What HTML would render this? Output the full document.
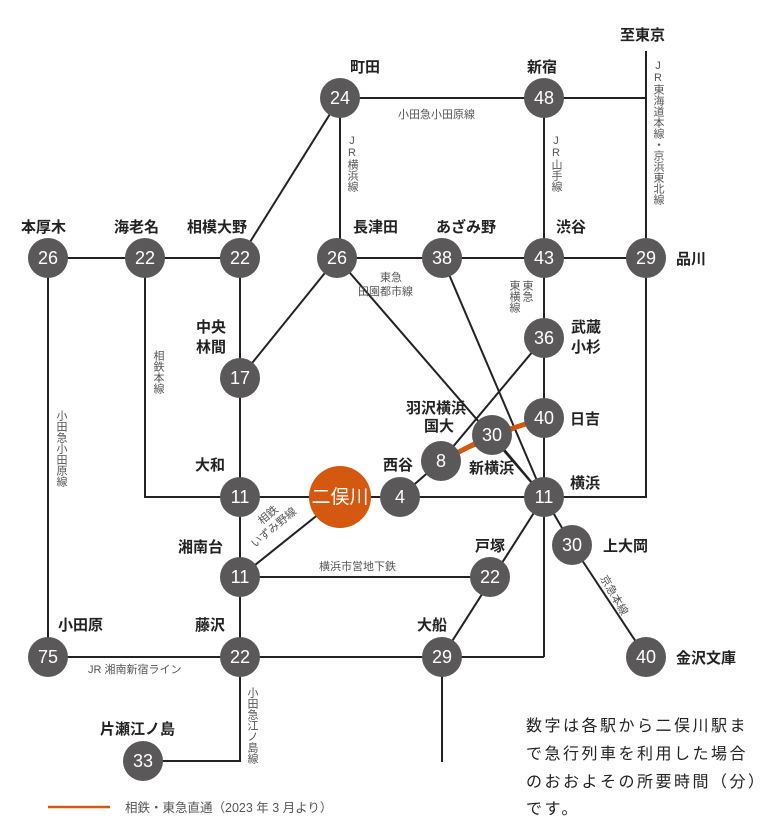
<!DOCTYPE html>
<html><head><meta charset="utf-8"><style>
body{margin:0;width:768px;height:824px;background:#fff;position:relative;overflow:hidden;font-family:"Liberation Sans","Noto Sans CJK JP",sans-serif}
svg{position:absolute;left:0;top:0}
.v{position:absolute;writing-mode:vertical-rl;text-orientation:upright;font-size:11px;color:#555;line-height:12px;letter-spacing:0px}
.s{font-size:15px;font-weight:bold;fill:#222}
.n{font-size:18px;fill:#fff;text-anchor:middle}
.l{font-size:11px;fill:#555}
</style></head><body>
<svg width="768" height="824" viewBox="0 0 768 824">
<g stroke="#222" stroke-width="2" fill="none">
<polyline points="340,98 646,98"/>
<polyline points="646,51 646,497 544,497"/>
<line x1="340" y1="98" x2="240" y2="258"/>
<line x1="340" y1="98" x2="340" y2="258"/>
<line x1="544" y1="98" x2="544" y2="657"/>
<line x1="48" y1="258" x2="240" y2="258"/>
<line x1="337" y1="258" x2="646" y2="258"/>
<line x1="240" y1="258" x2="240" y2="761"/>
<polyline points="145,258 145,497 544,497"/>
<line x1="48" y1="258" x2="48" y2="657"/>
<line x1="337" y1="258" x2="240" y2="378"/>
<line x1="337" y1="258" x2="544" y2="497"/>
<line x1="442" y1="258" x2="544" y2="497"/>
<polyline points="544,338 441,461 400,497"/>
<line x1="492" y1="435" x2="544" y2="497"/>
<line x1="240" y1="577" x2="340" y2="497"/>
<line x1="240" y1="577" x2="490" y2="577"/>
<line x1="544" y1="497" x2="442" y2="657"/>
<line x1="442" y1="657" x2="442" y2="762"/>
<polyline points="544,497 572,545 646,657"/>
<line x1="48" y1="657" x2="544" y2="657"/>
<polyline points="240,657 240,761 143,761"/>
</g>
<g stroke="#d4580f" stroke-width="5"><polyline points="441,461 492,435 544,418"/></g>
<line x1="48" y1="807" x2="110" y2="807" stroke="#d4580f" stroke-width="2.5"/>
<g fill="#5a5858">
<circle cx="340" cy="98" r="20"/><circle cx="544" cy="98" r="20"/>
<circle cx="48" cy="258" r="20"/><circle cx="145" cy="258" r="20"/><circle cx="240" cy="258" r="20"/><circle cx="337" cy="258" r="20"/><circle cx="442" cy="258" r="20"/><circle cx="544" cy="258" r="20"/><circle cx="646" cy="258" r="20"/>
<circle cx="544" cy="338" r="20"/><circle cx="240" cy="378" r="20"/><circle cx="544" cy="418" r="20"/><circle cx="492" cy="435" r="20"/><circle cx="441" cy="461" r="20"/>
<circle cx="400" cy="497" r="20"/><circle cx="240" cy="497" r="20"/><circle cx="544" cy="497" r="20"/>
<circle cx="572" cy="545" r="20"/><circle cx="240" cy="577" r="20"/><circle cx="490" cy="577" r="20"/>
<circle cx="48" cy="657" r="20"/><circle cx="240" cy="657" r="20"/><circle cx="442" cy="657" r="20"/><circle cx="646" cy="657" r="20"/><circle cx="143" cy="761" r="20"/>
</g>
<circle cx="340" cy="497" r="31" fill="#d4580f"/>
<g class="n">
<text x="340" y="104">24</text><text x="544" y="104">48</text>
<text x="48" y="264">26</text><text x="145" y="264">22</text><text x="240" y="264">22</text><text x="337" y="264">26</text><text x="442" y="264">38</text><text x="544" y="264">43</text><text x="646" y="264">29</text>
<text x="544" y="344">36</text><text x="240" y="384">17</text><text x="544" y="424">40</text><text x="492" y="441">30</text><text x="441" y="467">8</text>
<text x="400" y="503">4</text><text x="240" y="503">11</text><text x="544" y="503">11</text>
<text x="572" y="551">30</text><text x="240" y="583">11</text><text x="490" y="583">22</text>
<text x="48" y="663">75</text><text x="240" y="663">22</text><text x="442" y="663">29</text><text x="646" y="663">40</text><text x="143" y="767">33</text>
<text x="340" y="503" style="font-size:19px">二俣川</text>
</g>
<g class="s">
<text x="620" y="40">至東京</text>
<text x="350" y="72">町田</text><text x="527" y="72">新宿</text>
<text x="21" y="232">本厚木</text><text x="114" y="232">海老名</text><text x="187" y="232">相模大野</text>
<text x="353" y="232">長津田</text><text x="436" y="232">あざみ野</text><text x="556" y="232">渋谷</text>
<text x="676" y="264">品川</text>
<text x="571" y="332">武蔵</text><text x="571" y="352">小杉</text>
<text x="196" y="332">中央</text><text x="196" y="352">林間</text>
<text x="406" y="413">羽沢横浜</text><text x="424" y="431">国大</text>
<text x="570" y="424">日吉</text>
<text x="195" y="470">大和</text><text x="383" y="470">西谷</text><text x="469" y="473">新横浜</text>
<text x="570" y="488">横浜</text>
<text x="178" y="552">湘南台</text><text x="475" y="551">戸塚</text><text x="603" y="551">上大岡</text>
<text x="58" y="630">小田原</text><text x="195" y="630">藤沢</text><text x="417" y="630">大船</text>
<text x="676" y="663">金沢文庫</text>
<text x="100" y="734">片瀬江ノ島</text>
</g>
<g class="l">
<text x="398" y="118">小田急小田原線</text>
<text x="380" y="281">東急</text><text x="358" y="295">田園都市線</text>
<text x="319" y="570">横浜市営地下鉄</text>
<text x="88" y="673">JR 湘南新宿ライン</text>
<text x="125" y="812" style="font-size:12.5px">相鉄・東急直通（2023 年 3 月より）</text>
<text transform="translate(262,525) rotate(-40)">相鉄</text>
<text transform="translate(255,548) rotate(-40)">いずみ野線</text>
<text transform="translate(600,578) rotate(60)">京急本線</text>
</g>
<g style="font-size:16px;fill:#222;letter-spacing:2.5px">
<text x="526" y="731">数字は各駅から二俣川駅ま</text>
<text x="526" y="759">で急行列車を利用した場合</text>
<text x="526" y="787">のおおよその所要時間（分）</text>
<text x="526" y="814">です。</text>
</g>
</svg>
<div class="v" style="left:652px;top:60px">JR東海道本線・京浜東北線</div>
<div class="v" style="left:550px;top:135px">JR山手線</div>
<div class="v" style="left:346px;top:135px">JR横浜線</div>
<div class="v" style="left:508px;top:280px">東横線</div>
<div class="v" style="left:521px;top:280px">東急</div>
<div class="v" style="left:152px;top:350px">相鉄本線</div>
<div class="v" style="left:55px;top:410px">小田急小田原線</div>
<div class="v" style="left:246px;top:687px">小田急江ノ島線</div>
</body></html>
